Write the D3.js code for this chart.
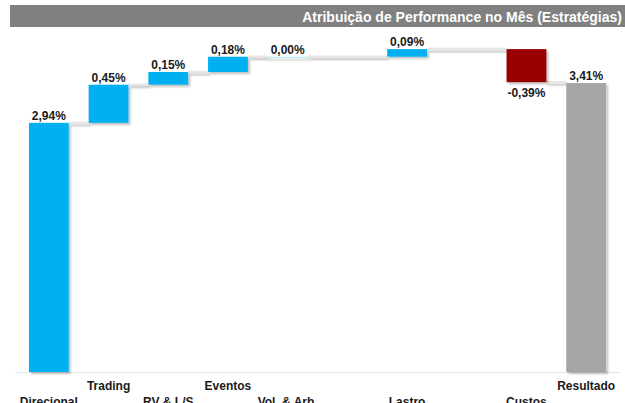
<!DOCTYPE html>
<html>
<head>
<meta charset="utf-8">
<script src="https://cdn.jsdelivr.net/npm/d3@7"></script>
<style>
  body { margin: 0; background: #fff; }
  text { font-family: "Liberation Sans", Arial, sans-serif; }
</style>
</head>
<body>
<div id="chart-area"></div>
<script>
const width = 625;
const height = 403;

const title = 'Atribuição de Performance no Mês (Estratégias)';
const categories = ['Direcional', 'Trading', 'RV & L/S', 'Eventos', 'Vol. & Arb.', '', 'Lastro', '', 'Custos', 'Resultado'];
const values = [2.94, 0.45, 0.15, 0.18, 0.00, null, 0.09, null, -0.39, 3.41];
const isTotal = [false, false, false, false, false, false, false, false, false, true];

const baseY = 372;

let svg = d3.select('#chart-area').append('svg')
    .attr('width', width)
    .attr('height', height);

let defs = svg.append('defs');
defs.append('filter').attr('id', 'shadow')
    .attr('x', '-20%').attr('y', '-20%').attr('width', '150%').attr('height', '150%')
  .append('feDropShadow')
    .attr('dx', 2).attr('dy', 2).attr('stdDeviation', 1)
    .attr('flood-color', '#000').attr('flood-opacity', 0.25);

// title bar
svg.append('rect')
    .attr('x', 10).attr('y', 5)
    .attr('width', width - 10).attr('height', 22)
    .attr('fill', '#808080');
svg.append('text')
    .attr('x', 622).attr('y', 22)
    .attr('text-anchor', 'end')
    .attr('font-size', '14px')
    .attr('font-weight', 'bold')
    .attr('fill', '#fff')
    .text(title);

let x = d3.scaleBand()
    .domain(d3.range(categories.length))
    .range([19, 616])
    .paddingInner(1 / 3)
    .paddingOuter(1 / 6);

let y = d3.scaleLinear()
    .domain([0, 4])
    .range([baseY, 33]);

// running totals
let data = [];
let running = 0;
values.forEach((v, i) => {
    if (v === null) return;
    let start, end;
    if (isTotal[i]) { start = 0; end = v; running = v; }
    else { start = running; end = running + v; running = end; }
    data.push({ i: i, v: v, start: start, end: end, total: isTotal[i] });
});

// baseline
svg.append('line')
    .attr('x1', 15).attr('x2', 620)
    .attr('y1', baseY + 0.5).attr('y2', baseY + 0.5)
    .attr('stroke', '#e3e3e3').attr('stroke-width', 1);

// connectors
let connectors = svg.append('g').attr('filter', 'url(#shadow)');
for (let k = 0; k < data.length - 1; k++) {
    let a = data[k], b = data[k + 1];
    connectors.append('line')
        .attr('x1', x(a.i) + x.bandwidth())
        .attr('x2', x(b.i))
        .attr('y1', y(a.end))
        .attr('y2', y(a.end))
        .attr('stroke', '#e6e6e6')
        .attr('stroke-width', 2.5);
}

// bars
svg.append('g').attr('filter', 'url(#shadow)')
  .selectAll('rect').data(data).enter().append('rect')
    .attr('x', d => x(d.i))
    .attr('width', x.bandwidth())
    .attr('y', d => y(Math.max(d.start, d.end)))
    .attr('height', d => Math.max(Math.abs(y(d.start) - y(d.end)), 1.5))
    .attr('fill', d => d.total ? '#a6a6a6' : (d.v < 0 ? '#990000' : (d.v === 0 ? '#bfeaff' : '#00b0f0')));

// value labels
svg.append('g').selectAll('text').data(data).enter().append('text')
    .attr('x', d => x(d.i) + x.bandwidth() / 2)
    .attr('y', d => d.v < 0 ? y(d.end) + 15 : y(Math.max(d.start, d.end)) - 3)
    .attr('text-anchor', 'middle')
    .attr('font-size', '12px')
    .attr('font-weight', 'bold')
    .attr('fill', '#1a1a1a')
    .text(d => d3.format('.2f')(d.v).replace('.', ',').replace('\u2212', '-') + '%');

// category axis, staggered labels
let bottomAxis = d3.axisBottom(x)
    .tickSize(0)
    .tickFormat(i => categories[i]);

let axis = svg.append('g')
    .attr('transform', `translate(0, ${baseY})`)
    .call(bottomAxis);
axis.select('.domain').remove();
axis.selectAll('text')
    .attr('y', i => i % 2 === 0 ? 34 : 18)
    .attr('dy', null)
    .attr('font-size', '12px')
    .attr('font-family', '"Liberation Sans", Arial, sans-serif')
    .attr('font-weight', 'bold')
    .attr('fill', '#1a1a1a');
</script>
</body>
</html>
